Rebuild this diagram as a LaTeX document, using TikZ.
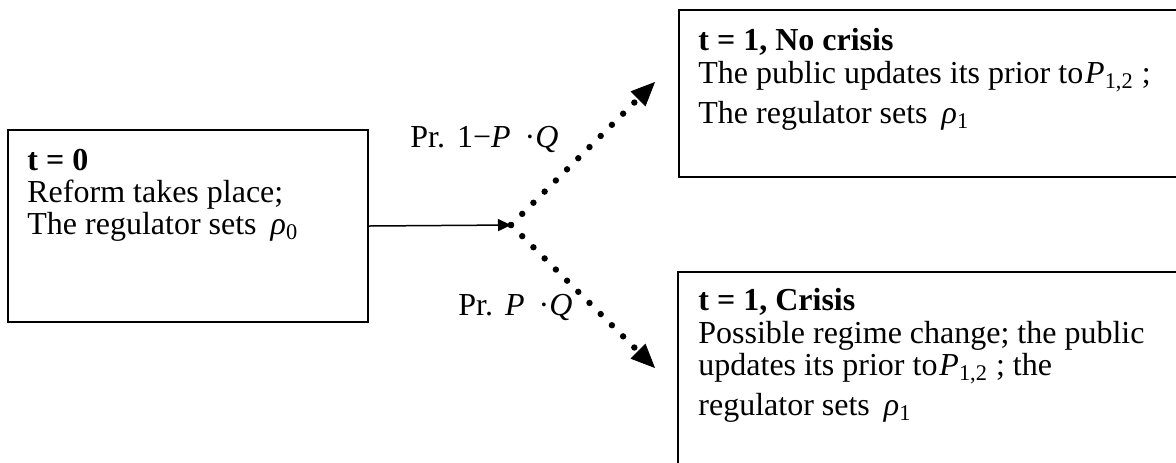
\documentclass[tikz,border=0pt]{standalone}
\usepackage{fontspec}
\setmainfont{Liberation Serif}
\usetikzlibrary{arrows.meta}
\begin{document}
\begin{tikzpicture}[x=0.5pt,y=-0.5pt,
  box/.style={draw, line width=1pt, inner sep=0pt, anchor=north west},
  txt/.style={anchor=base west, inner sep=0pt, font=\fontsize{16}{19}\selectfont},
  solidarrow/.style={line width=0.75pt, -{Triangle[length=6.5pt,width=6pt]}},
  dotarrow/.style={line width=3.2pt, line cap=round, dash pattern=on 0pt off 7.9pt,
     -{Triangle[length=12pt,width=10.5pt,line width=0.4pt]}}]
\useasboundingbox (0,0) rectangle (1176,462);
\clip (0,0) rectangle (1176,462);

% boxes
\node[box, minimum width=180pt, minimum height=96pt] (b0) at (7,129) {};
\node[box, minimum width=262pt, minimum height=83.5pt] (b1) at (678,9) {};
\node[box, minimum width=262pt, minimum height=110pt] (b2) at (677,271) {};

% left box text
\node[txt] (b0h) at (27,170) {\textbf{t = 0}};
\node[txt] (b0a) at (27,202) {Reform takes place;};
\node[txt] (b0b) at (27,234) {The regulator sets\hspace{7pt}\textit{ρ}\textsubscript{0}};

% top box text
\node[txt] (b1h) at (698,50) {\textbf{t = 1, No crisis}};
\node[txt] (b1a) at (698,83) {The public updates its prior to\hspace{1pt}\textit{P}\textsubscript{1,2} ;};
\node[txt] (b1b) at (698,123) {The regulator sets\hspace{7pt}\textit{ρ}\textsubscript{1}};

% bottom box text
\node[txt] (b2h) at (698,310) {\textbf{t = 1, Crisis}};
\node[txt] (b2a) at (698,343) {Possible regime change; the public};
\node[txt] (b2b) at (698,375) {updates its prior to\hspace{1pt}\textit{P}\textsubscript{1,2} ; the};
\node[txt] (b2c) at (698,415) {regulator sets\hspace{7pt}\textit{ρ}\textsubscript{1}};

% probability labels
\node[txt] (lup) at (410,147) {Pr.\hspace{6pt}1−\textit{P}\hspace{7pt}·\textit{Q}};
\node[txt] (ldn) at (458,315) {Pr.\hspace{6pt}\textit{P}\hspace{7pt}·\textit{Q}};

% connectors
\coordinate (j) at (511,225);
\coordinate (tipup) at (655,82);
\coordinate (tipdn) at (655,368);
\draw[solidarrow] (b0.east) -- (j);
\draw[dotarrow] (j) -- (tipup);
\draw[dotarrow] (j) -- (tipdn);
\end{tikzpicture}
\end{document}
